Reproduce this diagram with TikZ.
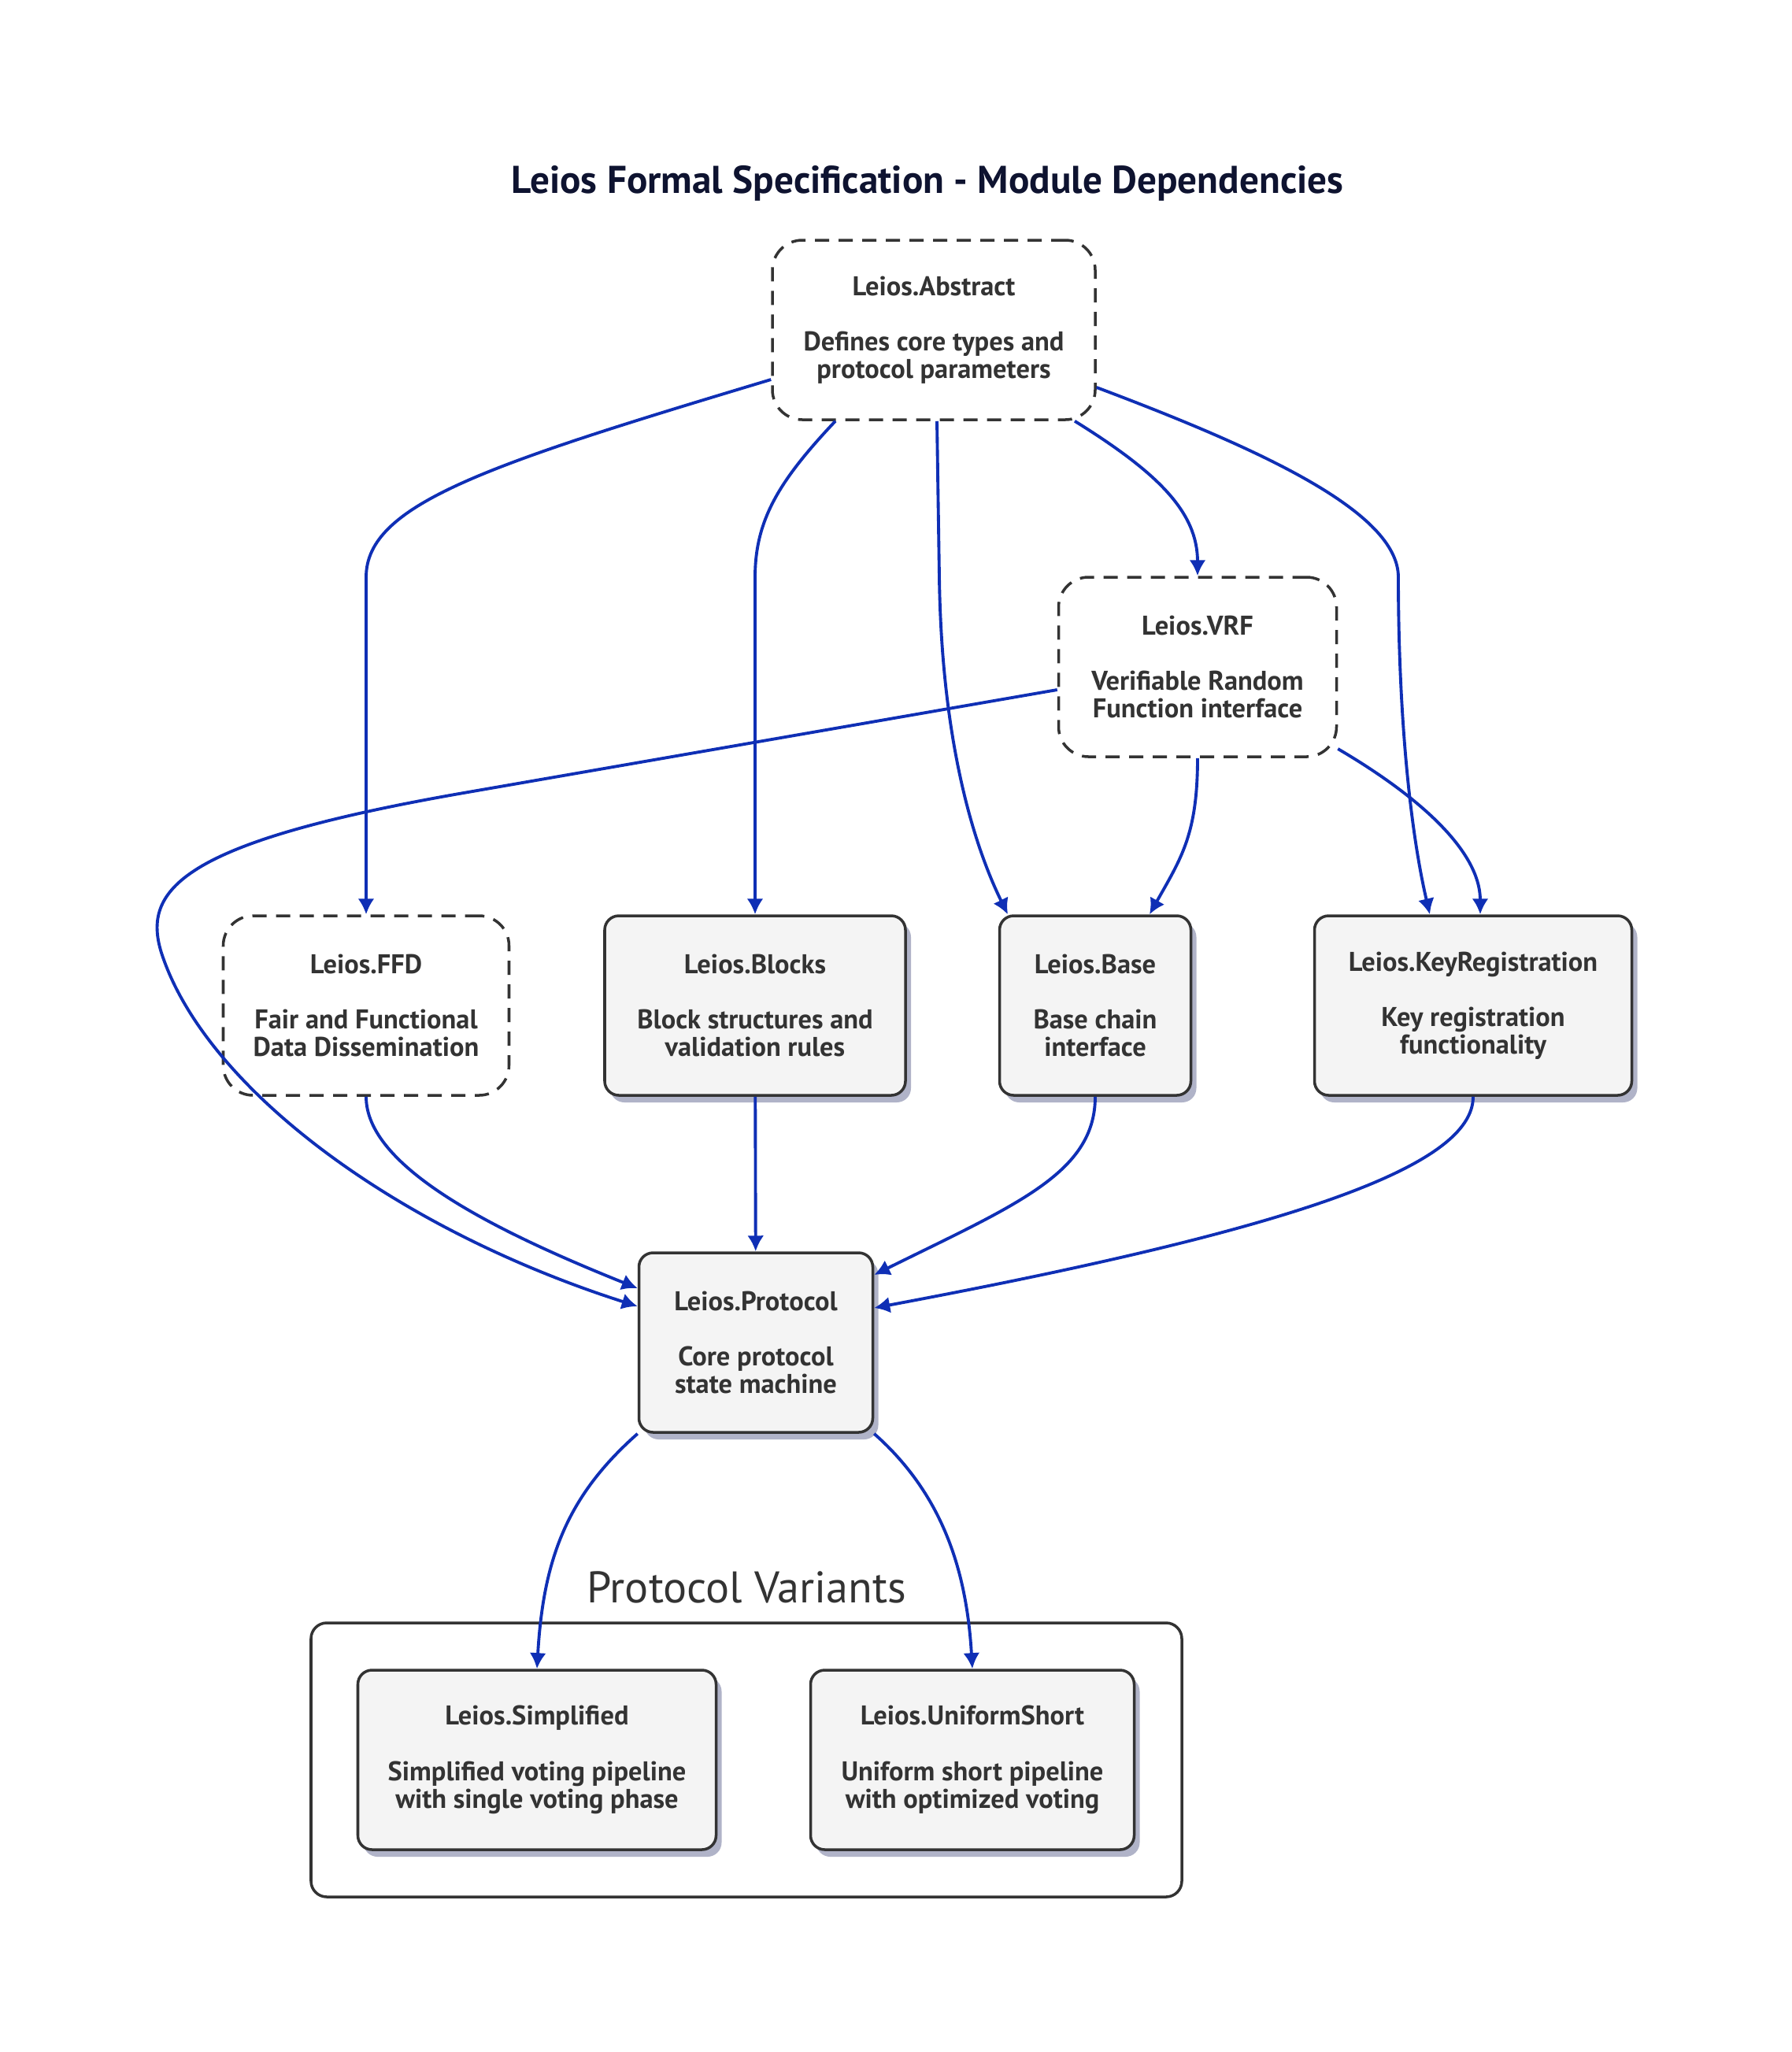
\documentclass[tikz,border=0pt]{standalone}
\usepackage{fontspec}
\setmainfont{PT Sans}
\usepackage{tikz}
\usetikzlibrary{shadows,arrows.meta}
\definecolor{txt}{HTML}{333333}
\definecolor{boxfill}{HTML}{F4F4F4}
\definecolor{shade}{HTML}{B0B3C8}
\definecolor{depc}{HTML}{0F2FB5}
\definecolor{ttlc}{HTML}{0E1330}
\newcommand{\modfont}{\fontsize{9.8pt}{10pt}\selectfont\bfseries}
\tikzstyle{mod}=[rectangle, rounded corners=0.18cm, draw=txt, line width=1pt, fill=boxfill, drop shadow={shadow xshift=0.07cm, shadow yshift=-0.09cm, fill=shade, opacity=1}, minimum height=2.28cm, align=center, font=\modfont, text=txt]
\tikzstyle{absmod}=[rectangle, rounded corners=0.38cm, draw=txt, line width=1pt, dash pattern=on 0.18cm off 0.12cm, minimum height=2.28cm, align=center, font=\modfont, text=txt]
\tikzstyle{grp}=[rectangle, rounded corners=0.2cm, draw=txt, line width=1pt]
\tikzstyle{ttl}=[font=\fontsize{14pt}{16pt}\selectfont\bfseries, text=ttlc]
\tikzstyle{grplbl}=[font=\fontsize{16pt}{19pt}\selectfont, text=txt]
\tikzstyle{dep}=[draw=depc, line width=1.1pt, -{Latex[length=0.2cm,width=0.21cm]}]

\begin{document}
\begin{tikzpicture}
				\useasboundingbox (0,0) rectangle (22.76,-26.06);
				%The title
				\draw (11.78,-2.33) node[ttl] (title) {Leios Formal Specification - Module Dependencies};
				
				%The abstract modules
				\draw (11.86,-4.19) node[absmod, minimum width=4.10cm] (abs) {Leios.Abstract\\[10pt]Defines core types and\\protocol parameters};
				\draw (15.21,-8.47) node[absmod, minimum width=3.53cm] (vrf) {Leios.VRF\\[10pt]Verifiable Random\\Function interface};
				\draw (4.65,-12.77) node[absmod, minimum width=3.63cm] (ffd) {Leios.FFD\\[10pt]Fair and Functional\\Data Dissemination};
				
				%The concrete modules
				\draw (9.59,-12.77) node[mod, minimum width=3.82cm] (blocks) {Leios.Blocks\\[10pt]Block structures and\\validation rules};
				\draw (13.91,-12.77) node[mod, minimum width=2.43cm] (base) {Leios.Base\\[10pt]Base chain\\interface};
				\draw (18.71,-12.77) node[mod, minimum width=4.03cm] (keyreg) {Leios.KeyRegistration\\[10pt]Key registration\\functionality};
				\draw (9.60,-17.05) node[mod, minimum width=2.97cm] (proto) {Leios.Protocol\\[10pt]Core protocol\\state machine};
				
				%The variants group
				\draw (9.48,-22.35) node[grp, minimum width=11.06cm, minimum height=3.48cm] (variants) {};
				\draw (9.48,-20.16) node[grplbl] (varlbl) {Protocol Variants};
				\draw (6.82,-22.35) node[mod, minimum width=4.55cm] (simp) {Leios.Simplified\\[10pt]Simplified voting pipeline\\with single voting phase};
				\draw (12.35,-22.35) node[mod, minimum width=4.11cm] (unif) {Leios.UniformShort\\[10pt]Uniform short pipeline\\with optimized voting};
				
				%Edges from the abstract layer
				\draw[dep] ([yshift=-0.63cm]abs.west) .. controls (6.20,-5.90) and (4.65,-6.40) .. (4.65,-7.33) -- (ffd.north);
				\draw[dep] ([xshift=-1.25cm]abs.south) .. controls (9.90,-6.10) and (9.59,-6.60) .. (9.59,-7.33) -- (blocks.north);
				\draw[dep] ([xshift=0.04cm]abs.south) -- (11.93,-7.33) .. controls (11.96,-9.50) and (12.40,-10.80) .. ([xshift=-1.11cm]base.north);
				\draw[dep] ([xshift=1.79cm]abs.south) .. controls (14.70,-6.00) and (15.21,-6.50) .. (vrf.north);
				\draw[dep] ([yshift=-0.73cm]abs.east) .. controls (16.00,-5.70) and (17.76,-6.50) .. (17.76,-7.33) .. controls (17.76,-9.00) and (17.90,-10.50) .. ([xshift=-0.55cm]keyreg.north);
				
				%Edges from VRF
				\draw[dep] ([yshift=-0.29cm]vrf.west) -- (5.83,-10.08) .. controls (2.30,-10.70) and (1.80,-11.30) .. (2.05,-12.10) .. controls (2.60,-13.80) and (5.00,-15.60) .. ([yshift=0.46cm]proto.west);
				\draw[dep] (vrf.south) .. controls (15.21,-10.60) and (15.00,-10.90) .. ([xshift=0.69cm]base.north);
				\draw[dep] ([yshift=-1.04cm]vrf.east) .. controls (18.00,-10.10) and (18.80,-10.80) .. ([xshift=0.09cm]keyreg.north);
				
				%Edges into the protocol
				\draw[dep] (ffd.south) .. controls (4.65,-14.80) and (6.20,-15.60) .. ([yshift=0.69cm]proto.west);
				\draw[dep] (blocks) -- (proto);
				\draw[dep] (base.south) .. controls (13.91,-14.90) and (12.90,-15.30) .. ([yshift=0.86cm]proto.east);
				\draw[dep] (keyreg.south) .. controls (18.71,-14.80) and (16.50,-15.60) .. ([yshift=0.44cm]proto.east);
				
				%Edges to the variants
				\draw[dep] (proto.south west) .. controls (7.20,-19.00) and (6.90,-19.80) .. (simp.north);
				\draw[dep] (proto.south east) .. controls (12.00,-19.00) and (12.28,-20.00) .. (unif.north);
			\end{tikzpicture}
\end{document}
